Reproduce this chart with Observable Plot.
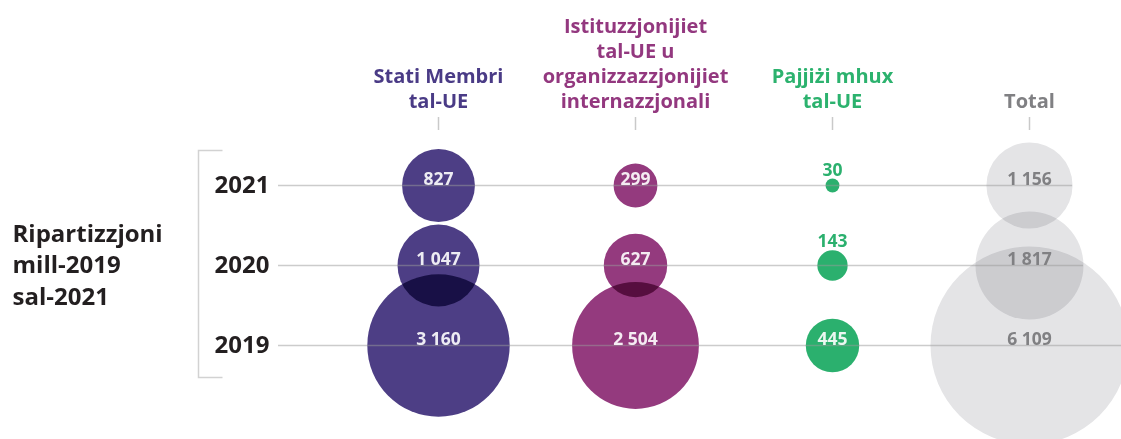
<!DOCTYPE html>
<html><head><meta charset="utf-8">
<script src="https://cdn.jsdelivr.net/npm/d3@7"></script>
<script src="https://cdn.jsdelivr.net/npm/@observablehq/plot@0.6"></script>
<style>
html,body{margin:0;padding:0;background:#fff;overflow:hidden;}
#chart{width:1121px;height:439px;}
</style></head><body><div id="chart"></div>
<script>
// ---- data ----
const categories = ["Stati Membri tal-UE", "Istituzzjonijiet tal-UE u organizzazzjonijiet internazzjonali", "Pajjiżi mhux tal-UE", "Total"];
const headerLabels = ["Stati Membri\ntal-UE", "Istituzzjonijiet\ntal-UE u\norganizzazzjonijiet\ninternazzjonali", "Pajjiżi mhux\ntal-UE", "Total"];
const years = ["2021", "2020", "2019"];
const statiMembri = [827, 1047, 3160];
const istituzzjonijiet = [299, 627, 2504];
const pajjiziMhux = [30, 143, 445];
const totals = [1156, 1817, 6109];
const sideTitle = "Ripartizzjoni\nmill-2019\nsal-2021";

// ---- styles ----
const circleColors = ["#4d3e85", "#943a7e", "#2bb06e", "#e4e4e6"];
const headerColors = ["#4a3b86", "#93387f", "#2cb26e", "#808083"];
const W = 1121, H = 439;

const seriesValues = [statiMembri, istituzzjonijiet, pajjiziMhux, totals];
const rows = categories.flatMap((cat, ci) => years.map((year, yi) => ({cat, ci, year, yi, value: seriesValues[ci][yi]})));
const headers = categories.map((cat, i) => ({cat, label: headerLabels[i]}));
const fmt = d3.formatLocale({decimal: ",", thousands: "\u00a0", grouping: [3], currency: ["", ""]}).format(",d");

const baseOptions = {
  width: W, height: H,
  marginLeft: 278, marginRight: 0, marginTop: 151, marginBottom: 60,
  style: {fontFamily: "'Open Sans', sans-serif", background: "#fff"},
  x: {type: "point", domain: categories, padding: 0.636, align: 0.635, axis: null},
  y: {type: "point", domain: years, padding: 0.425},
  r: {type: "sqrt", domain: [0, d3.max(totals)], range: [0, 99]},
  color: {domain: categories, range: circleColors}
};

const dotMarks = years.map(yr => Plot.dot(rows.filter(d => d.year === yr), {
  x: "cat", y: "year", r: "value", fill: "cat", mixBlendMode: "multiply"
}));

// first pass: read the scales
const probe = Plot.plot({...baseOptions, marks: [...dotMarks]});
const xs = v => probe.scale("x").apply(v);
const rs = v => probe.scale("r").apply(v);

const gridMarks = years.map((yr, i) => Plot.ruleY([yr], {
  y: d => d, stroke: "#999", strokeOpacity: 0.5, strokeWidth: 1.5,
  insetRight: W - (xs("Total") + rs(totals[i]))
}));

const insideLabels = Plot.text(rows.filter(d => rs(d.value) >= 20 && d.cat !== "Total"), {
  x: "cat", y: "year", text: d => fmt(d.value), fill: "#fff", fillOpacity: 0.9,
  fontSize: 17.5, fontWeight: 700, dy: -6
});
const totalLabels = Plot.text(rows.filter(d => d.cat === "Total"), {
  x: "cat", y: "year", text: d => fmt(d.value), fill: headerColors[3],
  fontSize: 17.5, fontWeight: 700, dy: -6
});
const smallLabels = rows.filter(d => rs(d.value) < 20).map(d => Plot.text([d], {
  x: "cat", y: "year", text: d => fmt(d.value), fill: circleColors[d.ci],
  fontSize: 17.5, fontWeight: 700, dy: -(rs(d.value) + 8.6)
}));

const headerMarks = headers.map((h, i) => Plot.text([h], {
  x: "cat", text: "label", frameAnchor: "top", lineAnchor: "bottom", dy: -44,
  fill: headerColors[i], fontSize: 20, fontWeight: 700, lineHeight: 1.25
}));

const chart = Plot.plot({
  ...baseOptions,
  marks: [
    ...dotMarks,
    ...gridMarks,
    Plot.ruleX(categories, {x: d => d, insetTop: -34, insetBottom: 249, stroke: "#c9c9c9", strokeWidth: 1.5}),
    insideLabels, totalLabels, ...smallLabels,
    ...headerMarks,
    Plot.axisY({tickSize: 0, tickPadding: 9, fontSize: 24, fontWeight: 700, fill: "#231f20", label: null}),
    Plot.frame({stroke: "#d2d2d2", strokeWidth: 1.5, insetLeft: -80, insetRight: W - 222, insetTop: -1, insetBottom: 2, strokeDasharray: "24,227,251"}),
    Plot.text([sideTitle], {text: d => d, frameAnchor: "left", textAnchor: "start", lineAnchor: "middle",
      dx: -266, dy: -2.5, fontSize: 24, fontWeight: 700, lineHeight: 1.31, fill: "#231f20"})
  ]
});
document.getElementById("chart").appendChild(chart);
</script>
</body></html>
